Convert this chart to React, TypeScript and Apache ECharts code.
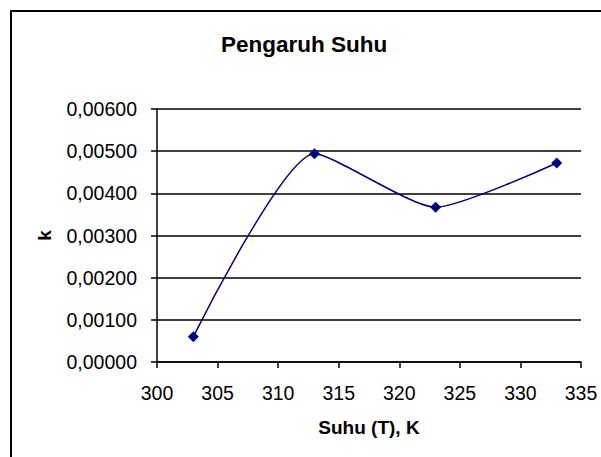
import React, { useEffect, useRef } from "react";
import * as echarts from "echarts";

const temperatures = [303, 313, 323, 333];
const kValues = [0.0006, 0.00494, 0.00367, 0.00472];
const titleText = "Pengaruh Suhu";
const xName = "Suhu (T), K";
const yName = "k";

export default function App() {
  const ref = useRef<HTMLDivElement>(null);
  useEffect(() => {
    if (!ref.current) return;
    const chart = echarts.init(ref.current, null, { renderer: "svg" });
    const font = "'Liberation Sans', Arial, sans-serif";
    chart.setOption({
      animation: false,
      backgroundColor: "#ffffff",
      title: {
        text: titleText,
        left: 299,
        top: 28,
        textAlign: "center",
        textStyle: { fontFamily: font, fontSize: 22.5, fontWeight: "bold", color: "#000" },
      },
      graphic: [
        {
          type: "rect",
          shape: { x: 11, y: 11, width: 700, height: 600 },
          style: { fill: "none", stroke: "#000", lineWidth: 2 },
          silent: true,
        },
      ],
      grid: { left: 157, right: 20, top: 109, bottom: 95 },
      xAxis: {
        type: "value",
        min: 300,
        max: 335,
        interval: 5,
        name: xName,
        nameLocation: "middle",
        nameGap: 56,
        nameTextStyle: { fontFamily: font, fontSize: 19, fontWeight: "bold", color: "#000" },
        axisLine: { show: true, onZero: false, lineStyle: { color: "#000", width: 1.5 } },
        axisTick: { show: true, inside: false, length: 6, lineStyle: { color: "#000", width: 1.5 } },
        axisLabel: { margin: 21, fontFamily: font, fontSize: 19.5, color: "#000" },
        splitLine: { show: false },
      },
      yAxis: {
        type: "value",
        min: 0,
        max: 0.006,
        interval: 0.001,
        name: yName,
        nameLocation: "middle",
        nameGap: 103,
        nameRotate: 90,
        nameTextStyle: { fontFamily: font, fontSize: 19, fontWeight: "bold", color: "#000" },
        axisLine: { show: true, lineStyle: { color: "#000", width: 1.5 } },
        axisTick: { show: true, inside: false, length: 6, lineStyle: { color: "#000", width: 1.5 } },
        axisLabel: {
          margin: 20,
          fontFamily: font,
          fontSize: 19.5,
          color: "#000",
          formatter: (v: number) => v.toFixed(5).replace(".", ","),
        },
        splitLine: { show: true, lineStyle: { color: "#000", width: 1.5 } },
      },
      series: [
        {
          type: "line",
          data: temperatures.map((t, i) => [t, kValues[i]]),
          smooth: 0.2,
          symbol: "diamond",
          symbolSize: 11,
          lineStyle: { color: "#000080", width: 1.5 },
          itemStyle: { color: "#000080" },
        },
      ],
    });
    return () => chart.dispose();
  }, []);
  return (
    <div
      ref={ref}
      style={{ position: "fixed", left: 0, top: 0, width: 601, height: 457 }}
    />
  );
}
